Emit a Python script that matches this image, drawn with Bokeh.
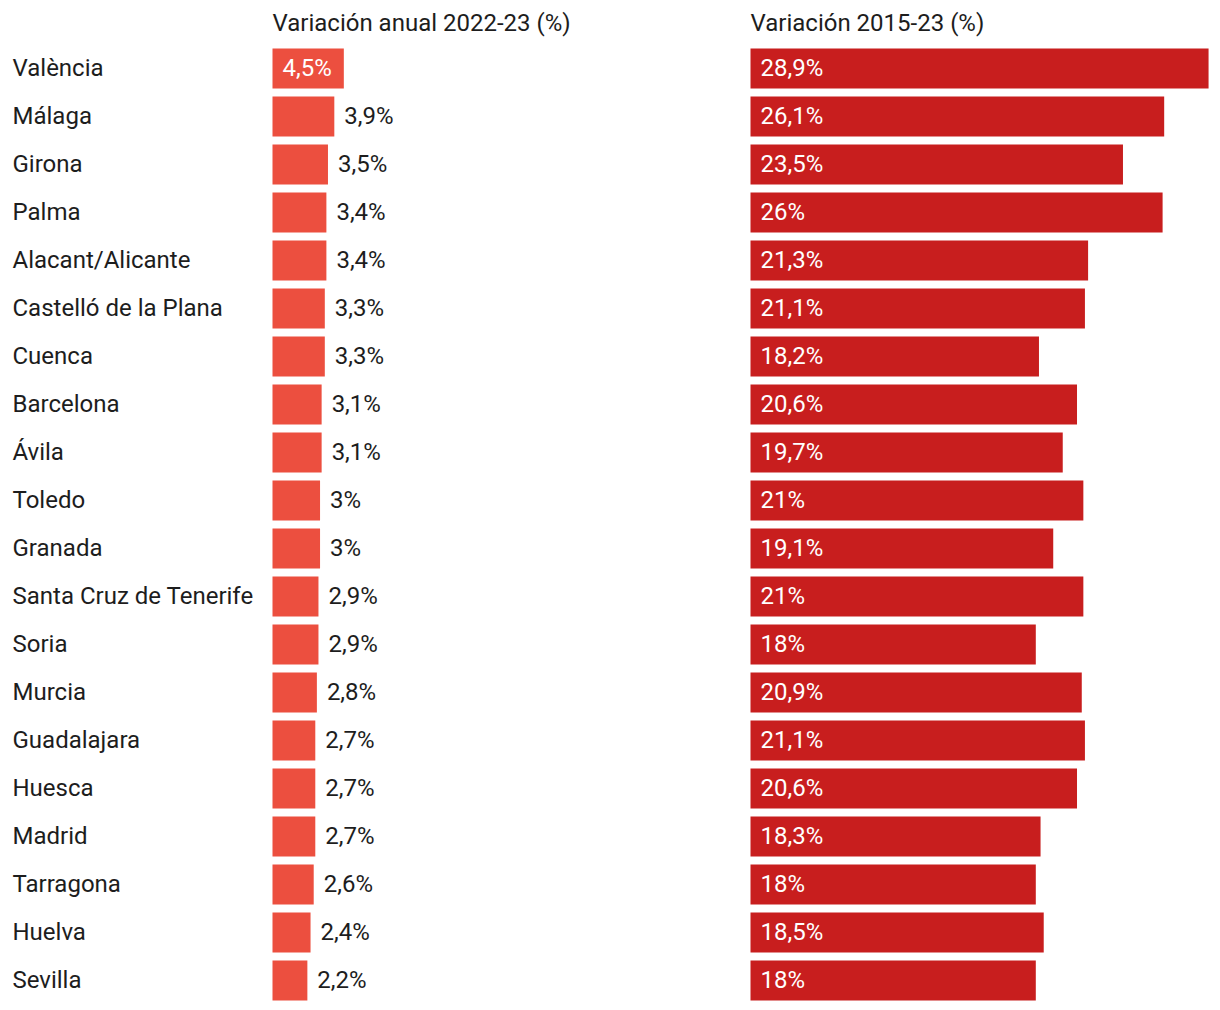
from bokeh.plotting import figure
from bokeh.models import Range1d
from bokeh.core.properties import value
from bokeh.embed import file_html
from bokeh.resources import INLINE

cities = ["València", "Málaga", "Girona", "Palma", "Alacant/Alicante", "Castelló de la Plana",
          "Cuenca", "Barcelona", "Ávila", "Toledo", "Granada", "Santa Cruz de Tenerife", "Soria",
          "Murcia", "Guadalajara", "Huesca", "Madrid", "Tarragona", "Huelva", "Sevilla"]
annual = [4.5, 3.9, 3.5, 3.4, 3.4, 3.3, 3.3, 3.1, 3.1, 3.0, 3.0, 2.9, 2.9, 2.8, 2.7, 2.7, 2.7, 2.6, 2.4, 2.2]
since2015 = [28.9, 26.1, 23.5, 26.0, 21.3, 21.1, 18.2, 20.6, 19.7, 21.0, 19.1, 21.0, 18.0, 20.9, 21.1,
             20.6, 18.3, 18.0, 18.5, 18.0]
headers = ["Variación anual 2022-23 (%)", "Variación 2015-23 (%)"]

W, H = 1212, 1004
S = 15.85            # pixels per percentage point
ORIGIN_PX = 272      # left bar origin within figure
RIGHT_OFF = 478 / S  # right panel origin, in percent units
ROW = 48.0
TOP_PX = 68.0
FONT = "Roboto"
FS = "24px"
C_LEFT = "#EC4F3F"
C_RIGHT = "#C81E1E"
TXT = "#1d1d1d"
YO = -1


def fmt(v):
    if abs(v - round(v)) < 1e-9:
        return "%d%%" % round(v)
    return ("%.1f%%" % v).replace(".", ",")


n = len(cities)
ys = list(range(n))
x0 = -ORIGIN_PX / S
p = figure(width=W, height=H, output_backend="svg", toolbar_location=None,
           x_range=Range1d(x0, x0 + W / S),
           y_range=Range1d(n - 1 + (H - (TOP_PX + ROW * (n - 1))) / ROW, -TOP_PX / ROW),
           min_border=0, outline_line_color=None, background_fill_color="white",
           border_fill_color="white")
p.xaxis.visible = False
p.yaxis.visible = False
p.xgrid.visible = False
p.ygrid.visible = False

bh = 40 / ROW
p.hbar(y=ys, left=0, right=annual, height=bh, color=C_LEFT, line_color=None)
p.hbar(y=ys, left=RIGHT_OFF, right=[RIGHT_OFF + v for v in since2015], height=bh,
       color=C_RIGHT, line_color=None)

# city labels
p.text(x=[x0] * n, y=ys, text=cities, x_offset=12, y_offset=YO, text_font=value(FONT),
       text_font_size=FS, text_color=TXT, text_baseline="middle", text_align="left")

# annual labels: inside if the bar is wide enough
ins = [i for i, v in enumerate(annual) if v * S >= 66]
out = [i for i, v in enumerate(annual) if v * S < 66]
p.text(x=[0] * len(ins), y=[ys[i] for i in ins], text=[fmt(annual[i]) for i in ins], x_offset=10,
       y_offset=YO, text_font=value(FONT), text_font_size=FS, text_color="white",
       text_baseline="middle")
p.text(x=[annual[i] for i in out], y=[ys[i] for i in out], text=[fmt(annual[i]) for i in out],
       x_offset=10, y_offset=YO, text_font=value(FONT), text_font_size=FS, text_color=TXT,
       text_baseline="middle")

# 2015-23 labels inside
p.text(x=[RIGHT_OFF] * n, y=ys, text=[fmt(v) for v in since2015], x_offset=10, y_offset=YO,
       text_font=value(FONT), text_font_size=FS, text_color="white", text_baseline="middle")

# headers
hy = -TOP_PX / ROW + 23 / ROW
p.text(x=[0, RIGHT_OFF], y=[hy, hy], text=headers, y_offset=YO, text_font=value(FONT),
       text_font_size=FS, text_color=TXT, text_baseline="middle")

open("out.html", "w").write(file_html(p, INLINE))
